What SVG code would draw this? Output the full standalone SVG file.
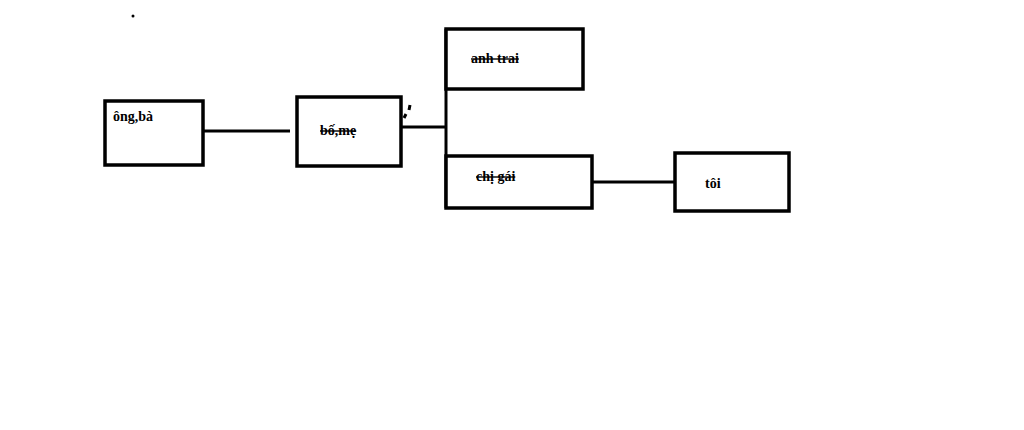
<svg xmlns="http://www.w3.org/2000/svg" width="1024" height="430" viewBox="0 0 1024 430">
<style>
.b{fill:#fff;stroke:#000;stroke-width:3.5}
.c{stroke:#000;stroke-width:3;fill:none}
text{font-family:"Liberation Serif",serif;font-weight:bold;font-size:14px;fill:#000}
.s{text-decoration:line-through}
</style>
<rect width="1024" height="430" fill="#fff"/>
<circle cx="133" cy="16" r="1.5" fill="#000"/>
<g id="connectors">
<line class="c" x1="203" y1="131" x2="290" y2="131"/>
<line class="c" x1="401" y1="127" x2="446" y2="127"/>
<line class="c" x1="446" y1="29" x2="446" y2="208"/>
<line class="c" x1="592" y1="182" x2="675" y2="182"/>
<path class="c" d="M404 118 l2 -4 M410 105 l-1 5" stroke-width="1.5"/>
</g>
<g id="ongba"><rect class="b" x="105" y="101" width="98" height="64"/><text x="113" y="121">ông,bà</text></g>
<g id="bome"><rect class="b" x="297" y="97" width="104" height="69"/><text class="s" x="320" y="135">bố,mẹ</text></g>
<g id="anhtrai"><rect class="b" x="446" y="29" width="137" height="60"/><text class="s" x="471" y="63">anh trai</text></g>
<g id="chigai"><rect class="b" x="446" y="156" width="146" height="52"/><text class="s" x="476" y="181">chị gái</text></g>
<g id="toi"><rect class="b" x="675" y="153" width="114" height="58"/><text x="705" y="188">tôi</text></g>
</svg>
